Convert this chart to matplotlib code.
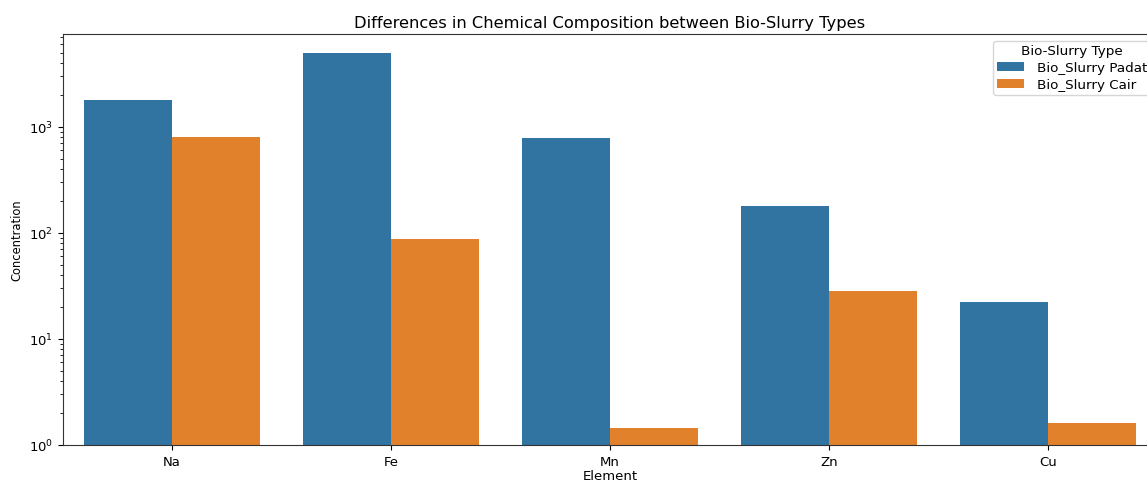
import matplotlib
matplotlib.use("Agg")
import matplotlib.pyplot as plt
import seaborn as sns
import pandas as pd

elements = ["Na", "Fe", "Mn", "Zn", "Cu"]
padat = [1786, 4980, 778, 178, 22.1]
cair = [805, 86.9, 1.44, 28.3, 1.60]
types = ["Bio_Slurry Padat", "Bio_Slurry Cair"]

df = pd.DataFrame({
    "Element": elements * 2,
    "Concentration": padat + cair,
    "Bio-Slurry Type": [types[0]] * len(elements) + [types[1]] * len(elements),
})

fig = plt.figure(figsize=(11.47, 4.81), dpi=100)
ax = fig.add_axes([62.5 / 1147, 35 / 481, 1095 / 1147, 411 / 481])
sns.barplot(data=df, x="Element", y="Concentration", hue="Bio-Slurry Type", ax=ax)
ax.set_yscale("log")
ax.set_ylim(1, 7480)
ax.set_xlim(-0.5, 4.5)
ax.set_title("Differences in Chemical Composition between Bio-Slurry Types", fontsize=11.7, pad=5)
ax.set_xlabel("Element", fontsize=9.5, labelpad=1)
ax.set_ylabel("Concentration", fontsize=8.3)
ax.tick_params(labelsize=9.5)
for s in ax.spines.values():
    s.set_color("#333333")
ax.legend(title="Bio-Slurry Type", loc="upper right", fontsize=9.7, title_fontsize=9.7,
          labelspacing=0.3, borderpad=0.25, handletextpad=1.0, borderaxespad=0.5)
fig.savefig("out.png", dpi=100)
